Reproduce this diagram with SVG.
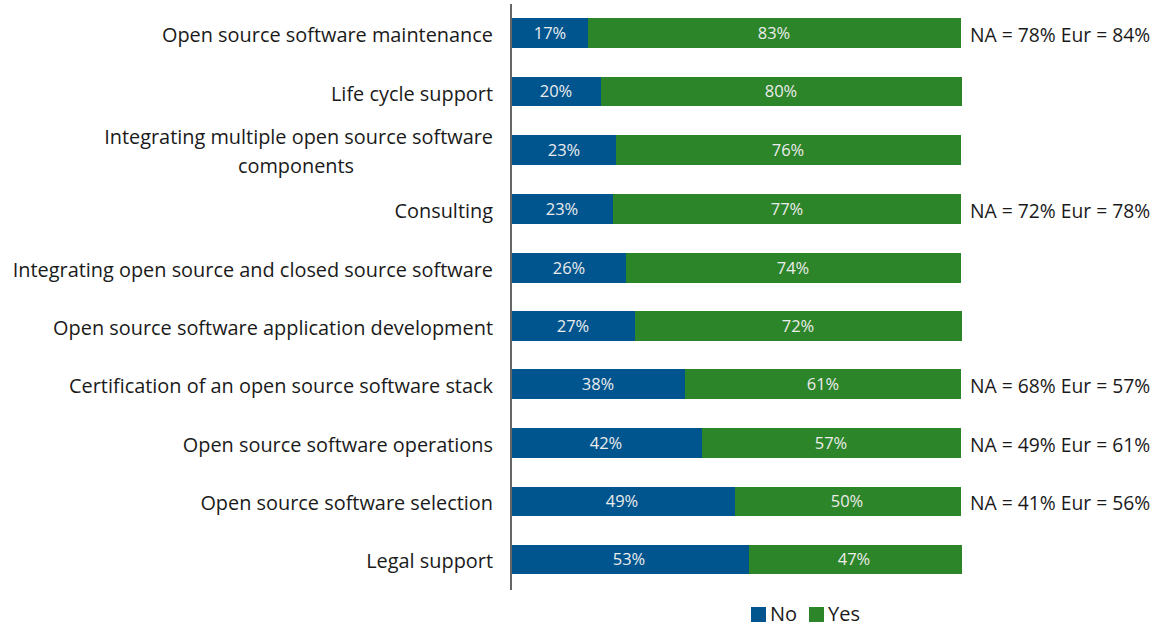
<svg xmlns="http://www.w3.org/2000/svg" width="1163" height="626" viewBox="0 0 1163 626">
<style>
.lbl{font-family:"Open Sans","Noto Sans",sans-serif;font-size:19.9px;fill:#1a1a1a;text-anchor:end}
.ann{font-family:"Open Sans","Noto Sans",sans-serif;font-size:19.3px;fill:#1a1a1a}
.leg{font-family:"Open Sans","Noto Sans",sans-serif;font-size:20px;fill:#1a1a1a}
.val{font-family:"Open Sans","Noto Sans",sans-serif;font-size:16.5px;fill:#ececec;text-anchor:middle}
.no{fill:#00558f}
.yes{fill:#2c8529}
</style>
<rect width="1163" height="626" fill="#ffffff"/>
<g id="row1"><rect class="no" x="512" y="18" width="76" height="30"/><rect class="yes" x="588" y="18" width="373" height="30"/>
<text class="lbl" x="493" y="42">Open source software maintenance</text><text class="val" x="550" y="39">17%</text><text class="val" x="774" y="39">83%</text><text class="ann" x="970" y="42">NA = 78% Eur = 84%</text></g>
<g id="row2"><rect class="no" x="512" y="77" width="89" height="29"/><rect class="yes" x="601" y="77" width="361" height="29"/>
<text class="lbl" x="493" y="101">Life cycle support</text><text class="val" x="556" y="97">20%</text><text class="val" x="781" y="97">80%</text></g>
<g id="row3"><rect class="no" x="512" y="135" width="104" height="30"/><rect class="yes" x="616" y="135" width="345" height="30"/>
<text class="lbl" x="493" y="144">Integrating multiple open source software</text><text class="lbl" x="296" y="173" style="text-anchor:middle">components</text><text class="val" x="564" y="156">23%</text><text class="val" x="788" y="156">76%</text></g>
<g id="row4"><rect class="no" x="512" y="194" width="101" height="30"/><rect class="yes" x="613" y="194" width="348" height="30"/>
<text class="lbl" x="493" y="218">Consulting</text><text class="val" x="562" y="215">23%</text><text class="val" x="787" y="215">77%</text><text class="ann" x="970" y="218">NA = 72% Eur = 78%</text></g>
<g id="row5"><rect class="no" x="512" y="253" width="114" height="30"/><rect class="yes" x="626" y="253" width="335" height="30"/>
<text class="lbl" x="493" y="277">Integrating open source and closed source software</text><text class="val" x="569" y="274">26%</text><text class="val" x="793" y="274">74%</text></g>
<g id="row6"><rect class="no" x="512" y="311" width="123" height="30"/><rect class="yes" x="635" y="311" width="327" height="30"/>
<text class="lbl" x="493" y="335">Open source software application development</text><text class="val" x="573" y="332">27%</text><text class="val" x="798" y="332">72%</text></g>
<g id="row7"><rect class="no" x="512" y="369" width="173" height="30"/><rect class="yes" x="685" y="369" width="276" height="30"/>
<text class="lbl" x="493" y="393">Certification of an open source software stack</text><text class="val" x="598" y="390">38%</text><text class="val" x="823" y="390">61%</text><text class="ann" x="970" y="393">NA = 68% Eur = 57%</text></g>
<g id="row8"><rect class="no" x="512" y="428" width="190" height="30"/><rect class="yes" x="702" y="428" width="259" height="30"/>
<text class="lbl" x="493" y="452">Open source software operations</text><text class="val" x="606" y="449">42%</text><text class="val" x="831" y="449">57%</text><text class="ann" x="970" y="452">NA = 49% Eur = 61%</text></g>
<g id="row9"><rect class="no" x="512" y="487" width="223" height="29"/><rect class="yes" x="735" y="487" width="226" height="29"/>
<text class="lbl" x="493" y="510">Open source software selection</text><text class="val" x="622" y="507">49%</text><text class="val" x="847" y="507">50%</text><text class="ann" x="970" y="510">NA = 41% Eur = 56%</text></g>
<g id="row10"><rect class="no" x="512" y="545" width="237" height="29"/><rect class="yes" x="749" y="545" width="213" height="29"/>
<text class="lbl" x="493" y="568">Legal support</text><text class="val" x="629" y="565">53%</text><text class="val" x="854" y="565">47%</text></g>
<g id="axis"><line x1="511" y1="4" x2="511" y2="590" stroke="#333" stroke-width="1.5"/></g>
<g id="legend"><rect class="no" x="751" y="607" width="15" height="15"/><text class="leg" x="770" y="621">No</text><rect class="yes" x="809" y="607" width="15" height="15"/><text class="leg" x="828" y="621">Yes</text></g>
</svg>
